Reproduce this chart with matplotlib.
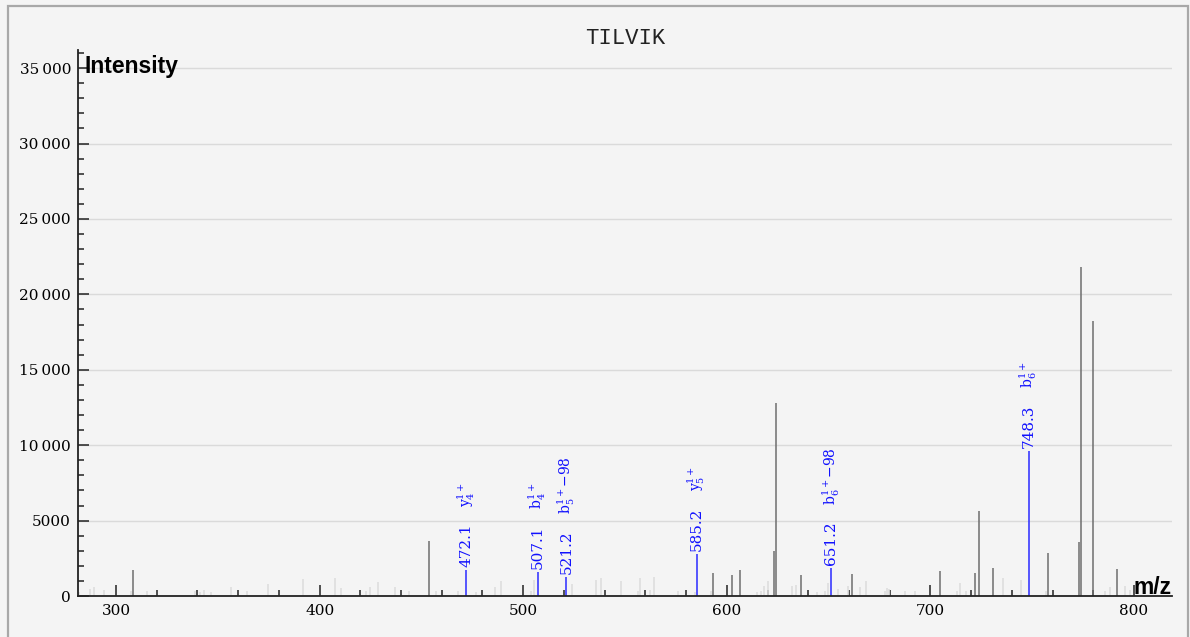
import matplotlib
matplotlib.use('Agg')
import matplotlib.pyplot as plt
from matplotlib.patches import Rectangle
from matplotlib.ticker import MultipleLocator, FuncFormatter

plt.rcParams['font.family'] = ['DejaVu Serif']
plt.rcParams['mathtext.fontset'] = 'dejavuserif'

title = 'TILVIK'

# unmatched peaks, faint
noise_mz = [281.8, 287.2, 289.0, 294.3, 307.2, 315.4, 338.6, 341.4, 343.4, 346.5,
            356.6, 364.5, 374.5, 391.7, 407.7, 410.7, 422.8, 424.8, 428.8, 436.9,
            443.9, 457.0, 468.0, 477.0, 486.0, 489.0, 504.0, 505.2, 524.1, 535.9,
            538.0, 548.2, 556.4, 557.2, 562.3, 564.2, 576.2, 584.2, 592.1, 615.0,
            616.9, 618.1, 620.2, 632.0, 634.1, 644.3, 648.4, 649.6, 654.6, 659.5,
            665.6, 668.5, 677.5, 678.5, 679.7, 687.7, 692.4, 713.2, 714.5, 717.3,
            735.8, 744.5, 756.9, 785.8, 788.1, 795.8, 797.9]
noise_int = [290, 490, 600, 380, 330, 330, 330, 290, 380, 290,
             600, 310, 820, 1150, 1210, 550, 350, 570, 950, 600,
             350, 310, 310, 290, 600, 1000, 310, 1060, 800, 1060,
             1210, 1000, 310, 1210, 400, 1240, 350, 290, 310, 290,
             350, 640, 1000, 660, 730, 290, 330, 840, 460, 660,
             620, 970, 310, 550, 440, 330, 330, 350, 860, 330,
             1190, 1060, 350, 330, 600, 660, 380]

# unmatched peaks, stronger
peak_mz = [308.2, 453.9, 593.4, 602.4, 606.3, 623.3, 624.3, 636.5, 661.5, 704.7,
           721.7, 723.7, 730.6, 757.6, 773.0, 773.8, 779.9, 791.8]
peak_int = [1720, 3650, 1500, 1390, 1720, 2980, 12800, 1390, 1460, 1660,
            1550, 5650, 1860, 2850, 3560, 21800, 18200, 1770]

# matched fragment ions
ion_mz = [472.1, 507.1, 521.2, 585.2, 651.2, 748.3]
ion_int = [1720, 1570, 1280, 2760, 1880, 9600]
ion_labels = ['$\\mathrm{y}_4^{1+}$', '$\\mathrm{b}_4^{1+}$', '$\\mathrm{b}_5^{1+}$\u221298',
              '$\\mathrm{y}_5^{1+}$', '$\\mathrm{b}_6^{1+}$\u221298', '$\\mathrm{b}_6^{1+}$']

bg = '#f4f4f4'
fig = plt.figure(figsize=(11.9, 6.37), dpi=100, facecolor=bg)
ax = fig.add_axes([78/1190, 41/637, 1094/1190, 546/637])
ax.set_facecolor(bg)

ax.vlines(noise_mz, 0, noise_int, color='#dedede', lw=1.2, zorder=2)
ax.vlines(peak_mz, 0, peak_int, color='#6e6e6e', lw=1.1, zorder=3)
ax.vlines(ion_mz, 0, ion_int, color='#3a3aff', lw=1.2, zorder=4)

for mz, inten, lab in zip(ion_mz, ion_int, ion_labels):
    ax.annotate(f'{mz:.1f}', (mz, inten), xytext=(0, 3), textcoords='offset pixels',
                rotation=90, ha='center', va='bottom', color='#1010ff', fontsize=11)
    ax.annotate(lab, (mz, inten), xytext=(0, 63), textcoords='offset pixels',
                rotation=90, ha='center', va='bottom', color='#1010ff', fontsize=10)

ax.set_xlim(281.3, 818.7)
ax.set_ylim(0, 36200)
ax.xaxis.set_major_locator(MultipleLocator(100))
ax.xaxis.set_minor_locator(MultipleLocator(20))
ax.yaxis.set_major_locator(MultipleLocator(5000))
ax.yaxis.set_minor_locator(MultipleLocator(1000))


def fmt(v, pos):
    v = int(round(v))
    if v >= 10000:
        return f'{v:,}'.replace(',', '\u2009')
    return str(v)


ax.yaxis.set_major_formatter(FuncFormatter(fmt))

for s in ['top', 'right']:
    ax.spines[s].set_visible(False)
for s in ['left', 'bottom']:
    ax.spines[s].set_linewidth(1.3)
    ax.spines[s].set_color('#222222')
    ax.spines[s].set_zorder(5)

ax.tick_params(which='both', direction='in', color='#222222', width=1.1, labelsize=11)
ax.tick_params(which='major', length=8)
ax.tick_params(which='minor', length=4.5)
ax.tick_params(axis='y', pad=5)
ax.tick_params(axis='x', pad=6)

ax.yaxis.grid(True, color='#dadada', lw=1)
ax.set_axisbelow(True)

fig.text(625/1190, 1 - 38/637, title, ha='center', va='center',
         family='Liberation Mono', fontsize=16, color='#222222')
fig.text(85/1190, 1 - 66/637, 'Intensity', ha='left', va='center',
         family='Liberation Sans', fontweight='bold', fontsize=16.5)
fig.text(1172/1190, 1 - 594/637, 'm/z', ha='right', va='baseline',
         family='Liberation Sans', fontweight='bold', fontsize=16.5)

fig.patches.append(Rectangle((8/1190, -0.01), 1180/1190, 1.01 - 6/637,
                             transform=fig.transFigure, fill=False,
                             edgecolor='#a8a8a8', lw=1.6))

fig.savefig('out.png', dpi=100, facecolor=bg)
